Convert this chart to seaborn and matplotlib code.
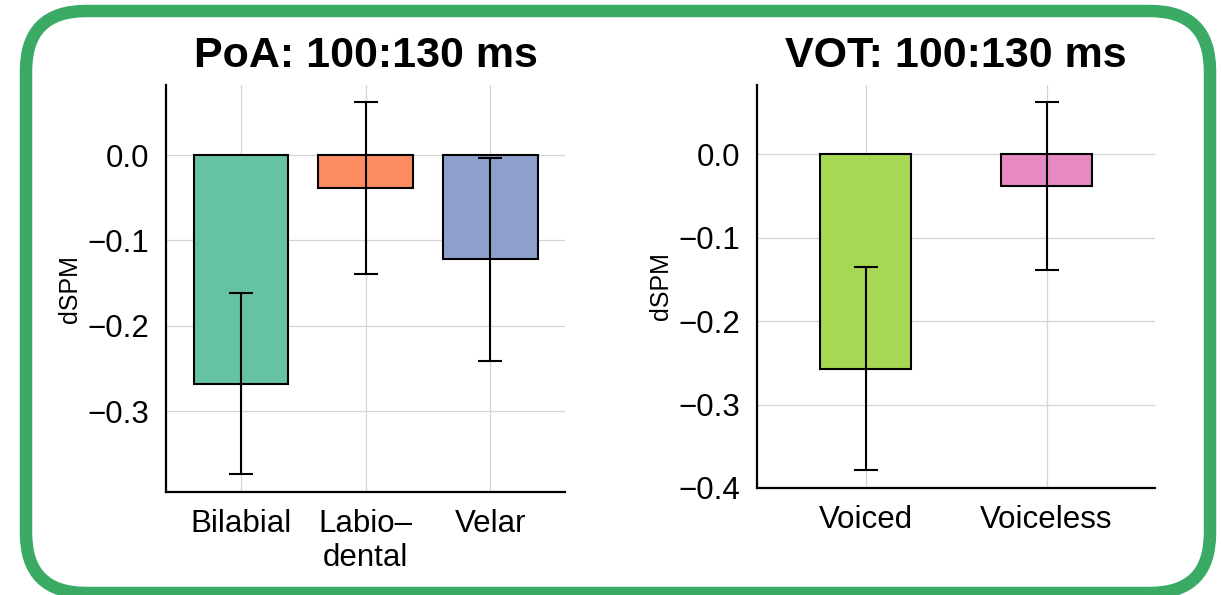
"""
Bar charts of dSPM by place of articulation and voicing (100:130 ms window).
"""

import matplotlib
matplotlib.use("Agg")
import matplotlib.pyplot as plt
from matplotlib.patches import FancyBboxPatch
import pandas as pd
import seaborn as sns

# data
poa_labels = ["Bilabial", "Labio–\ndental", "Velar"]
poa_means = [-0.268, -0.039, -0.122]
poa_errs = [0.106, 0.101, 0.119]
poa_colors = ["#66c2a5", "#fc8d62", "#8da0cb"]

vot_labels = ["Voiced", "Voiceless"]
vot_means = [-0.257, -0.038]
vot_errs = [0.122, 0.101]
vot_colors = ["#a6d854", "#e78ac3"]

poa_yticks = [0.0, -0.1, -0.2, -0.3]
vot_yticks = [0.0, -0.1, -0.2, -0.3, -0.4]

sns.set_theme(style="whitegrid")
plt.rcParams["font.family"] = ["Liberation Sans", "DejaVu Sans"]
plt.rcParams["axes.unicode_minus"] = True
plt.rcParams["text.color"] = "black"
plt.rcParams["axes.labelcolor"] = "black"
plt.rcParams["xtick.color"] = "black"
plt.rcParams["ytick.color"] = "black"


def bar_panel(ax, labels, means, errs, colors, width, title, yticks, ylim):
    df = pd.DataFrame({"cond": labels, "dspm": means})
    sns.barplot(data=df, x="cond", y="dspm", hue="cond", palette=colors,
                saturation=1, width=width, edgecolor="black", linewidth=1.5,
                legend=False, ax=ax, zorder=2)
    ax.errorbar(range(len(means)), means, yerr=errs, fmt="none",
                ecolor="black", elinewidth=1.5, capsize=8.5, capthick=1.5,
                zorder=3)
    ax.set_title(title, fontsize=31, fontweight="bold", pad=13,
                 color="black")
    ax.set_xlabel("")
    ax.set_ylabel("dSPM", fontsize=18, labelpad=4)
    ax.set_yticks(yticks)
    ax.set_ylim(*ylim)
    ax.set_xlim(-0.6, len(means) - 0.4)
    ax.tick_params(axis="both", labelsize=22.5, length=6, width=1.2,
                   direction="out", color="black", labelcolor="black", pad=6)
    ax.grid(True, color="#d5d5d5", linewidth=0.9)
    ax.set_axisbelow(True)
    for side in ["top", "right"]:
        ax.spines[side].set_visible(False)
    for side in ["left", "bottom"]:
        ax.spines[side].set_color("black")
        ax.spines[side].set_linewidth(1.6)


fig = plt.figure(figsize=(12.21, 5.95), dpi=100)
ax1 = fig.add_axes([0.136, 0.173, 0.327, 0.684])
ax2 = fig.add_axes([0.620, 0.180, 0.326, 0.677])

bar_panel(ax1, poa_labels, poa_means, poa_errs, poa_colors, 0.76,
          "PoA: 100:130 ms", poa_yticks, (-0.395, 0.082))
bar_panel(ax2, vot_labels, vot_means, vot_errs, vot_colors, 0.5,
          "VOT: 100:130 ms", vot_yticks, (-0.4, 0.083))

# green rounded frame around the whole figure
frame = FancyBboxPatch((0.26, 0.02), 11.84, 5.82,
                       boxstyle="round,pad=0,rounding_size=0.6",
                       transform=fig.dpi_scale_trans, fill=False,
                       edgecolor="#3aaa64", linewidth=9, clip_on=False)
fig.patches.append(frame)

fig.savefig("out.png", dpi=100)
